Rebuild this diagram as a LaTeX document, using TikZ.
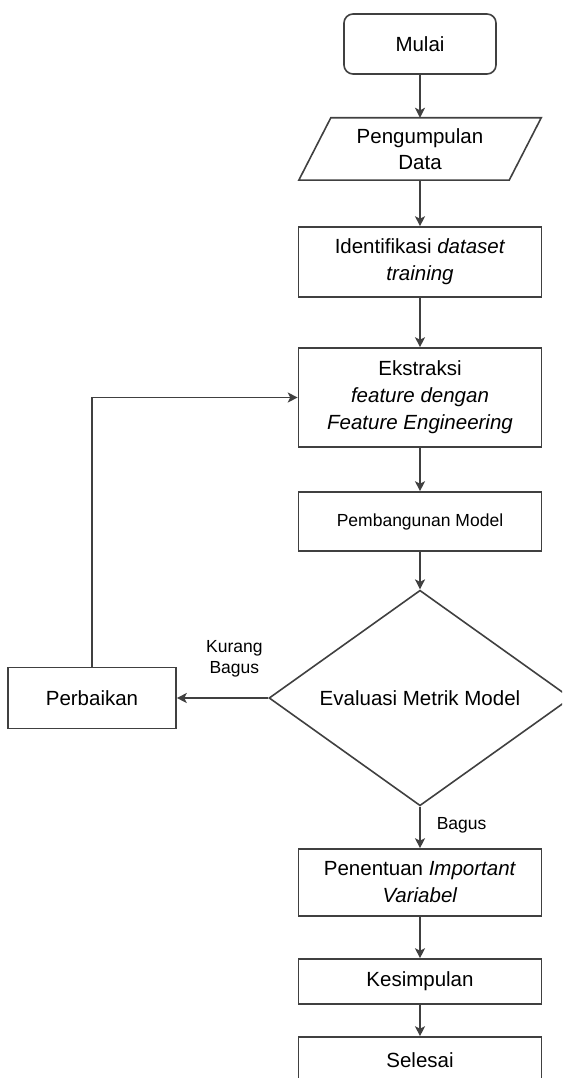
\documentclass[tikz,border=0pt]{standalone}
\usepackage{fontspec}
\setmainfont{Liberation Sans}
\usetikzlibrary{arrows.meta,positioning,calc,shapes.geometric}
\tikzset{
  box/.style={
    draw=black!75,
    line width=1.6pt,
    fill=white,
    minimum width=243pt,
    align=center,
    inner sep=2pt,
    font=\fontsize{20.5}{27}\selectfont
  },
  terminal/.style={box, rounded corners=9pt, minimum width=152pt, minimum height=60pt},
  decision/.style={diamond, draw=black!75, line width=1.6pt, fill=white,
    minimum width=302pt, minimum height=210pt, inner sep=0pt, align=center,
    font=\fontsize{20.5}{25}\selectfont},
  edge/.style={-{Stealth[length=10pt, width=10pt, inset=2.5pt]}, draw=black!75, line width=1.6pt},
  outline/.style={draw=black!75, line width=1.6pt},
  lbl/.style={inner sep=2pt, align=center, font=\fontsize{17.5}{21}\selectfont}
}

\begin{document}
\begin{tikzpicture}[x=1pt, y=-1pt]
  \clip (0,0) rectangle (562,1078);
  \useasboundingbox (0,0) rectangle (562,1078);
  \node[terminal] (start) at (420,44) {Mulai};
  \node[align=center, minimum width=210pt, minimum height=62pt, inner sep=0pt,
        font=\fontsize{20.5}{26}\selectfont] (data) at (420,149) {Pengumpulan\\Data};
  \draw[outline] ($(data.north west)+(16,0)$) -- ($(data.north east)+(16,0)$)
    -- ($(data.south east)+(-16,0)$) -- ($(data.south west)+(-16,0)$) -- cycle;
  \node[box, minimum height=70pt] (ident) at (420,262) {Identifikasi \textit{dataset}\\\textit{training}};
  \node[box, minimum height=99pt] (extract) at (420,397.5) {Ekstraksi\\\textit{feature dengan}\\\textit{Feature Engineering}};
  \node[box, minimum height=59pt, font=\fontsize{17.5}{21}\selectfont] (build) at (420,521.5) {Pembangunan Model};
  \node[decision] (eval) at (420,698) {Evaluasi Metrik Model};
  \node[box, minimum width=168pt, minimum height=61pt] (fix) at (92,698) {Perbaikan};
  \node[box, minimum height=67pt] (result) at (420,882.5) {Penentuan \textit{Important}\\\textit{Variabel}};
  \node[box, minimum height=45pt] (concl) at (420,981.5) {Kesimpulan};
  \node[box, minimum height=46pt] (finish) at (420,1060) {Selesai};

  \draw[edge] (start) -- (data);
  \draw[edge] (data) -- (ident);
  \draw[edge] (ident) -- (extract);
  \draw[edge] (extract) -- (build);
  \draw[edge] (build) -- (eval);
  \draw[edge] (eval.west) -- node[lbl, pos=0.37, above=18pt] {Kurang\\Bagus} (fix.east);
  \draw[edge] (fix.north) |- (extract.west);
  \draw[edge] (eval.south) -- node[lbl, right=14pt, pos=0.45] {Bagus} (result.north);
  \draw[edge] (result) -- (concl);
  \draw[edge] (concl) -- (finish);
\end{tikzpicture}
\end{document}
